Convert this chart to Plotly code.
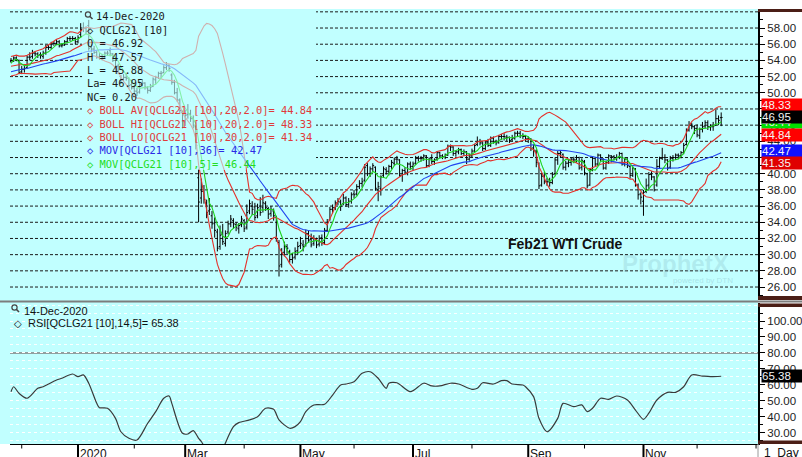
import pandas as pd
import plotly.graph_objects as go
from plotly.subplots import make_subplots

# ---------------- DATA ----------------
HOLIDAYS = ["2019-11-28", "2019-12-25", "2020-01-01", "2020-01-20", "2020-02-17",
            "2020-04-10", "2020-05-25", "2020-07-03", "2020-09-07", "2020-11-26",
            "2020-12-25", "2021-01-01"]

# closes before the visible window (needed for the 20/36-day indicators), Oct 4 - Nov 22 2019
warmup_close = [50.6, 50.6, 50.5, 50.5, 51.3, 52.3, 51.4, 50.7, 51.2, 51.7,
                51.6, 51.2, 51.9, 53.2, 53.4, 53.6, 52.9, 52.7, 52.4, 51.8,
                52.9, 53.1, 53.6, 53.0, 53.5, 53.6, 53.3, 53.2, 53.5, 53.2,
                53.9, 53.5, 52.4, 53.5, 54.4, 53.9]

opens = [
    53.9, 54.0, 54.3, 54.0,
    52.6, 52.9, 53.1, 54.4, 54.5, 54.9, 54.8, 54.7, 54.5, 54.9, 55.6, 55.6, 56.1, 56.1, 56.3, 55.8, 55.9, 56.3, 56.7, 56.7, 56.7,
    56.3, 57.2, 58.0, 58.0, 58.3, 55.6, 55.4, 55.0, 54.4, 54.5, 54.3, 54.9, 55.2, 54.8, 54.0, 53.3, 52.0, 51.6, 51.9, 51.8, 51.0,
    50.6, 50.2, 50.1, 51.0, 51.2, 50.6, 50.3, 50.8, 51.6, 51.9, 52.4, 52.5, 53.1, 53.4, 52.2, 51.3, 50.0, 49.1, 47.6,
    46.4, 47.3, 47.4, 46.8, 45.8, 39.5, 37.0, 37.8, 36.4, 35.4, 34.8, 33.9, 32.8, 31.0, 32.5, 31.4, 32.8, 33.8, 34.2, 33.7, 33.2, 33.7,
    34.2, 33.4, 35.4, 36.0, 35.9, 34.8, 36.0, 35.8, 36.3, 35.7, 35.1, 35.4, 34.6, 31.5, 28.8, 30.3, 31.0, 30.4, 29.4, 29.7, 30.5,
    31.1, 31.2, 31.2, 32.6, 31.9, 31.4, 31.9, 31.3, 32.1, 31.5, 33.0, 34.3, 35.6, 35.8, 36.4, 36.5, 36.3, 37.0, 36.2, 36.6,
    37.5, 37.5, 38.4, 38.8, 39.2, 41.0, 40.0, 40.6, 40.8, 38.0, 38.2, 39.8, 40.5, 40.3, 40.9, 41.3, 41.8, 41.7, 39.8, 40.4, 40.1, 41.2,
    40.9, 41.3, 41.9, 41.9, 41.9, 42.2, 41.0, 41.9, 41.5, 41.8, 42.6, 42.2, 42.1, 42.3, 43.4, 43.3, 42.5, 42.7, 43.0, 42.5, 42.7, 41.8,
    42.2, 42.8, 43.6, 44.0, 43.8, 43.1, 43.8, 43.5, 44.4, 44.0, 43.9, 44.6, 44.6, 44.5, 44.5, 44.2, 44.4, 45.0, 45.0, 44.7, 44.6,
    44.3, 44.3, 43.2, 42.8, 41.2, 38.6, 39.7, 39.0, 39.0, 38.9, 40.0, 41.7, 42.5, 42.4, 40.8, 41.3, 41.4, 41.8, 41.7, 42.0, 40.8,
    41.5, 40.0, 38.6, 40.5, 41.9, 41.2, 42.3, 41.8, 40.7, 41.4, 42.2, 42.1, 42.0, 42.0, 42.5, 41.2, 41.8, 40.9, 39.8, 40.6, 38.6, 37.5,
    36.6, 37.8, 38.6, 39.9, 39.6, 38.6, 40.9, 41.9, 42.0, 41.7, 40.8, 41.9, 42.0, 42.3, 42.2, 42.6, 43.6, 45.4, 46.0, 45.8,
    45.6, 44.7, 45.5, 45.9, 46.3, 45.8, 45.8, 46.0, 46.8, 46.92]

highs = [
    54.3, 54.5, 54.5, 54.1,
    53.3, 53.3, 54.6, 55.0, 55.3, 55.1, 55.0, 55.0, 55.2, 55.9, 55.9, 56.3, 56.4, 56.6, 56.5, 56.1, 56.5, 56.9, 57.0, 57.0, 56.9,
    57.1, 58.6, 58.7, 58.2, 59.0, 56.0, 55.8, 55.2, 54.9, 54.8, 55.1, 55.2, 55.6, 54.9, 54.1, 53.6, 52.2, 52.3, 52.4, 51.9, 51.6,
    50.9, 50.6, 51.4, 51.7, 51.3, 50.8, 51.1, 51.9, 52.1, 52.6, 52.7, 53.4, 53.8, 53.5, 52.4, 51.6, 50.6, 49.3, 47.8,
    47.9, 48.6, 47.9, 47.2, 46.0, 40.6, 39.4, 38.6, 36.8, 37.0, 35.4, 34.6, 33.2, 33.6, 33.8, 33.0, 34.2, 34.9, 34.5, 34.0, 33.9, 34.8,
    34.4, 36.2, 36.8, 36.6, 36.4, 36.3, 37.1, 37.4, 36.6, 35.9, 36.0, 35.7, 34.8, 31.8, 30.8, 31.6, 31.3, 30.6, 30.2, 30.9, 31.6,
    32.2, 31.8, 33.1, 33.0, 32.6, 32.4, 32.1, 32.4, 32.5, 33.3, 34.4, 35.9, 36.2, 36.7, 37.0, 36.8, 37.5, 37.2, 37.0, 37.7,
    38.0, 38.7, 39.2, 39.5, 41.2, 41.3, 40.9, 41.3, 40.9, 39.0, 39.8, 40.9, 40.8, 41.1, 41.7, 42.0, 42.2, 41.8, 40.6, 40.8, 41.4, 41.5,
    41.5, 42.2, 42.2, 42.2, 42.4, 42.3, 42.0, 42.4, 41.9, 42.8, 42.7, 42.4, 42.5, 43.6, 43.6, 43.4, 42.9, 43.2, 43.1, 43.0, 42.8, 42.5,
    43.1, 43.7, 44.6, 44.3, 43.9, 44.0, 44.3, 44.6, 44.6, 44.2, 44.8, 44.9, 45.0, 44.8, 44.6, 44.8, 45.2, 45.3, 45.3, 45.0, 44.8,
    44.6, 44.4, 43.6, 43.0, 41.4, 40.1, 40.2, 39.5, 39.5, 40.2, 42.0, 42.8, 42.9, 42.5, 41.6, 41.8, 42.0, 42.1, 42.3, 42.1, 41.9,
    41.7, 40.1, 40.7, 42.1, 42.0, 42.5, 42.4, 41.9, 41.6, 42.4, 42.3, 42.3, 42.4, 42.7, 42.6, 42.0, 41.9, 41.0, 40.9, 40.7, 38.8, 37.7,
    38.0, 39.4, 40.2, 40.3, 39.7, 41.8, 42.1, 43.2, 42.4, 41.8, 42.2, 42.3, 42.5, 42.5, 42.8, 43.8, 45.6, 46.5, 46.3, 46.0,
    46.1, 45.7, 46.4, 46.6, 46.6, 46.1, 46.4, 47.9, 47.2, 47.57]

lows = [
    53.7, 53.8, 53.9, 52.3,
    52.3, 52.5, 53.0, 54.0, 54.2, 54.5, 54.3, 54.2, 54.2, 54.7, 55.3, 55.4, 55.8, 55.9, 55.6, 55.6, 55.8, 56.2, 56.4, 56.4, 56.0,
    56.1, 56.9, 57.5, 57.2, 55.2, 55.0, 54.8, 54.2, 54.1, 54.0, 54.2, 54.6, 54.5, 53.8, 52.9, 52.3, 51.1, 51.4, 51.5, 50.5, 50.4,
    49.8, 49.6, 49.9, 50.8, 50.4, 49.9, 50.1, 50.7, 51.1, 51.7, 51.8, 52.4, 52.8, 52.6, 51.0, 49.8, 48.9, 47.4, 45.6,
    45.9, 46.8, 46.4, 45.6, 43.0, 34.0, 36.3, 36.3, 34.5, 34.9, 33.2, 32.1, 30.4, 30.6, 31.2, 31.0, 32.5, 33.4, 33.2, 32.9, 32.6, 33.4,
    32.8, 33.1, 35.0, 34.9, 34.2, 34.5, 34.8, 35.2, 35.4, 34.4, 34.7, 34.2, 31.6, 27.3, 28.4, 29.8, 30.1, 29.0, 28.9, 29.4, 30.0,
    30.7, 30.4, 31.0, 31.5, 30.9, 31.1, 30.8, 31.0, 31.1, 31.2, 32.8, 34.2, 35.1, 35.5, 36.1, 35.4, 36.1, 35.9, 35.8, 36.3,
    37.0, 37.3, 38.1, 38.3, 39.0, 39.7, 39.6, 40.2, 37.9, 36.6, 37.3, 39.5, 39.9, 39.8, 40.6, 41.0, 41.2, 39.6, 39.0, 39.9, 39.8, 40.6,
    40.4, 41.1, 41.5, 41.5, 41.6, 40.8, 40.8, 41.2, 41.1, 41.6, 41.9, 41.8, 41.8, 42.2, 42.8, 42.2, 42.1, 42.4, 42.3, 42.2, 41.2, 41.6,
    42.0, 42.6, 43.4, 43.5, 42.8, 42.9, 43.3, 43.3, 43.7, 43.5, 43.7, 44.2, 44.1, 44.0, 43.8, 44.0, 44.2, 44.6, 44.4, 44.3, 44.0,
    43.8, 42.8, 42.1, 40.8, 38.1, 38.4, 38.7, 38.5, 38.4, 38.7, 39.8, 41.1, 42.0, 40.5, 40.4, 40.8, 41.0, 41.3, 41.4, 40.5, 40.4,
    39.8, 38.2, 38.5, 40.3, 40.9, 41.0, 41.5, 40.5, 40.5, 41.2, 41.4, 41.7, 41.6, 41.8, 41.0, 40.9, 40.7, 39.4, 39.6, 38.4, 36.8, 36.2,
    34.8, 37.6, 37.9, 39.2, 37.8, 38.4, 40.6, 41.7, 41.3, 40.4, 40.6, 41.5, 41.7, 41.8, 41.9, 42.4, 43.5, 45.2, 45.5, 44.9,
    44.5, 44.3, 45.1, 45.6, 45.4, 45.3, 45.3, 45.9, 46.0, 45.88]

closes = [
    54.0, 54.3, 54.1, 52.5,
    52.9, 53.0, 54.4, 54.4, 54.9, 54.8, 54.6, 54.6, 54.9, 55.6, 55.6, 56.1, 56.1, 56.3, 55.8, 55.9, 56.3, 56.7, 56.7, 56.7, 56.3,
    56.8, 57.8, 58.0, 57.6, 55.5, 55.4, 55.0, 54.4, 54.5, 54.3, 54.9, 54.9, 54.8, 54.0, 53.3, 52.5, 51.6, 51.9, 51.8, 50.9, 50.6,
    50.2, 50.0, 51.0, 51.2, 50.7, 50.3, 50.7, 51.7, 51.9, 52.4, 52.4, 53.1, 53.4, 53.0, 51.3, 50.0, 49.1, 47.8, 46.5,
    47.2, 47.4, 46.8, 46.0, 43.5, 36.5, 37.8, 36.8, 35.2, 35.6, 33.8, 33.0, 30.8, 32.4, 31.6, 32.6, 33.8, 34.4, 33.8, 33.4, 33.6, 34.4,
    33.2, 35.2, 36.3, 35.6, 34.6, 35.8, 35.2, 36.4, 35.8, 35.0, 35.6, 34.8, 32.0, 28.6, 30.2, 31.0, 30.8, 29.4, 29.6, 30.4, 31.0,
    31.4, 31.0, 32.6, 31.8, 31.2, 32.0, 31.2, 32.0, 31.4, 33.0, 34.0, 35.6, 35.8, 36.4, 36.6, 36.0, 37.0, 36.2, 36.6, 37.4,
    37.4, 38.4, 38.8, 39.0, 40.8, 40.0, 40.6, 41.0, 38.2, 38.4, 39.6, 40.6, 40.3, 40.9, 41.4, 41.8, 41.8, 39.8, 40.4, 40.2, 41.2, 40.9,
    41.2, 41.9, 41.9, 41.9, 42.2, 41.0, 41.8, 41.5, 41.7, 42.6, 42.2, 42.1, 42.3, 43.4, 43.3, 42.5, 42.7, 43.0, 42.5, 42.7, 41.8, 42.2,
    42.8, 43.5, 44.0, 43.8, 43.1, 43.8, 43.5, 44.4, 44.0, 43.8, 44.6, 44.6, 44.6, 44.5, 44.1, 44.4, 45.0, 45.0, 44.7, 44.6, 44.3,
    44.3, 43.1, 42.9, 41.4, 38.5, 39.7, 39.0, 39.0, 38.9, 39.9, 41.7, 42.5, 42.6, 40.8, 41.3, 41.4, 41.8, 41.7, 42.0, 40.7, 41.6,
    40.1, 38.5, 40.5, 41.9, 41.2, 42.3, 41.8, 40.7, 41.4, 42.2, 42.1, 42.0, 42.0, 42.5, 41.2, 41.8, 41.0, 39.8, 40.7, 38.6, 37.4, 37.1,
    37.7, 38.5, 39.9, 39.6, 38.0, 40.9, 41.9, 42.0, 41.7, 40.7, 41.9, 42.0, 42.3, 42.2, 42.6, 43.5, 45.3, 46.0, 45.8, 45.6,
    44.8, 45.5, 45.8, 46.3, 45.8, 45.8, 45.9, 46.8, 46.6, 46.95]

rsi_dates = [
    "2019-11-25", "2019-11-26", "2019-11-29", "2019-12-04", "2019-12-10", "2019-12-12", "2019-12-19",
    "2019-12-23", "2019-12-30", "2020-01-02", "2020-01-06", "2020-01-08", "2020-01-13", "2020-01-14",
    "2020-01-17", "2020-01-23", "2020-01-27", "2020-01-30", "2020-02-04", "2020-02-10", "2020-02-13",
    "2020-02-19", "2020-02-21", "2020-02-24", "2020-02-28", "2020-03-03", "2020-03-05", "2020-03-09",
    "2020-03-10", "2020-03-12", "2020-03-16", "2020-03-18", "2020-03-20", "2020-03-23", "2020-03-26",
    "2020-03-30", "2020-04-03", "2020-04-08", "2020-04-14", "2020-04-17", "2020-04-21", "2020-04-27",
    "2020-04-29", "2020-05-01", "2020-05-05", "2020-05-08", "2020-05-14", "2020-05-19", "2020-05-22",
    "2020-05-27", "2020-06-01", "2020-06-04", "2020-06-09", "2020-06-12", "2020-06-17", "2020-06-18",
    "2020-06-23", "2020-06-30", "2020-07-08", "2020-07-13", "2020-07-16", "2020-07-22", "2020-07-27",
    "2020-08-03", "2020-08-05", "2020-08-07", "2020-08-13", "2020-08-18", "2020-08-20", "2020-08-24",
    "2020-08-28", "2020-08-31", "2020-09-03", "2020-09-08", "2020-09-11", "2020-09-17", "2020-09-21",
    "2020-09-25", "2020-09-30", "2020-10-02", "2020-10-06", "2020-10-09", "2020-10-14", "2020-10-19",
    "2020-10-23", "2020-10-28", "2020-11-02", "2020-11-04", "2020-11-09", "2020-11-13", "2020-11-18",
    "2020-11-23", "2020-11-27", "2020-12-03", "2020-12-08", "2020-12-14"]
rsi_values = [
    55.7, 58.8, 54.7, 51.6, 57.8, 58.8, 63.0,
    64.1, 66.8, 65.1, 66.2, 61.0, 48.4, 45.7,
    45.3, 39.0, 30.6, 26.5, 25.4, 35.9, 43.2,
    51.6, 53.0, 48.4, 29.6, 29.2, 31.3, 26.5,
    24.5, 19.0, 15.0, 14.0, 19.0, 23.5, 33.8,
    36.3, 38.0, 40.0, 45.3, 44.7, 38.0, 32.8,
    33.8, 36.9, 43.2, 47.4, 47.8, 53.6, 59.9,
    60.5, 62.0, 67.2, 68.2, 64.1, 57.8, 61.0,
    61.3, 55.7, 61.0, 59.3, 59.3, 61.0, 60.5,
    57.2, 57.8, 61.3, 60.5, 62.6, 62.6, 60.5,
    59.9, 58.8, 52.6, 39.0, 30.6, 39.0, 48.4,
    46.3, 47.4, 43.2, 45.3, 51.6, 50.9, 53.0,
    50.5, 44.2, 38.4, 42.2, 50.5, 55.3, 55.3,
    58.8, 66.2, 65.5, 65.1, 65.38]

price_ticks = list(range(26, 61, 2))
rsi_ticks = list(range(30, 101, 10))
major_month_ticks = ["2020-01-02", "2020-03-02", "2020-05-01", "2020-07-01", "2020-09-01", "2020-11-02"]
major_month_labels = ["2020", "Mar", "May", "Jul", "Sep", "Nov"]
minor_month_ticks = ["2019-12-02", "2020-02-03", "2020-04-01", "2020-06-01", "2020-08-03",
                     "2020-10-01", "2020-12-01", "2021-01-04"]

legend_lines = [
    ("O = 46.92", "#1a1a1a"), ("H = 47.57", "#1a1a1a"), ("L = 45.88", "#1a1a1a"),
    ("La= 46.95", "#1a1a1a"), ("NC= 0.20", "#1a1a1a"),
    ("\u25c7 BOLL AV[QCLG21 [10],20,2.0]= 44.84", "#e03a3a"),
    ("\u25c7 BOLL HI[QCLG21 [10],20,2.0]= 48.33", "#e03a3a"),
    ("\u25c7 BOLL LO[QCLG21 [10],20,2.0]= 41.34", "#e03a3a"),
    ("\u25c7 MOV[QCLG21 [10],36]= 42.47", "#2a2ae6"),
    ("\u25c7 MOV[QCLG21 [10],5]= 46.44", "#22dd22"),
]
# right-axis value tags: (value, text, colour, pixel shift)
value_tags = [(46.44, "46.44", "#00e000", 0), (42.47, "42.47", "#1010ff", 3),
              (41.35, "41.35", "#e00000", 0), (44.84, "44.84", "#ff0000", 0),
              (48.33, "48.33", "#ff0000", 1.5), (46.95, "46.95", "#000000", 0)]

# ---------------- CALENDAR + INDICATORS ----------------
bday = pd.offsets.CustomBusinessDay(holidays=HOLIDAYS)
dates = pd.date_range("2019-11-25", "2020-12-14", freq=bday)
axis_days = pd.date_range("2019-11-25", "2021-01-04", freq=bday)   # trading-day slots on the axis
warm_dates = pd.date_range("2019-10-04", "2019-11-22", freq=bday)
assert len(dates) == len(closes) == len(opens) == len(highs) == len(lows)
assert len(warm_dates) == len(warmup_close)

day_str = [d.strftime("%Y-%m-%d") for d in dates]
axis_str = [d.strftime("%Y-%m-%d") for d in axis_days]

all_close = pd.Series(warmup_close + closes, index=warm_dates.append(dates))
ma20 = all_close.rolling(20).mean()
sd20 = all_close.rolling(20).std(ddof=0)
bb_hi = (ma20 + 2 * sd20).loc[dates].values
bb_lo = (ma20 - 2 * sd20).loc[dates].values
bb_av = ma20.loc[dates].values
ma36 = all_close.rolling(36).mean().loc[dates].values
ma5 = all_close.rolling(5).mean().loc[dates].values

# ---------------- FIGURE ----------------
W, H = 802, 457
L_M, R_M, T_M, B_M = 10, 44, 9, 13
PW, PH = W - L_M - R_M, H - T_M - B_M


def X(px):
    return (px - L_M) / PW


def Y(py):
    return (H - B_M - py) / PH


BG = "#C1FFFF"
fig = make_subplots(rows=2, cols=1, shared_xaxes=True)

fig.add_trace(go.Ohlc(x=day_str, open=opens, high=highs, low=lows, close=closes,
                      increasing_line_color="black", decreasing_line_color="black",
                      line_width=1, tickwidth=0.5, hoverinfo="skip", showlegend=False),
              row=1, col=1)
RED = "#e4312b"
for s in (bb_hi, bb_av, bb_lo):
    fig.add_trace(go.Scatter(x=day_str, y=s, mode="lines", line=dict(color=RED, width=1.1),
                             hoverinfo="skip", showlegend=False), row=1, col=1)
fig.add_trace(go.Scatter(x=day_str, y=ma36, mode="lines", line=dict(color="#2244ee", width=1.1),
                         hoverinfo="skip", showlegend=False), row=1, col=1)
fig.add_trace(go.Scatter(x=day_str, y=ma5, mode="lines", line=dict(color="#1ed41e", width=1.1),
                         hoverinfo="skip", showlegend=False), row=1, col=1)
fig.add_trace(go.Scatter(x=rsi_dates, y=rsi_values, mode="lines",
                         line=dict(color="#3a3a3a", width=1.2, shape="spline", smoothing=0.8),
                         hoverinfo="skip", showlegend=False), row=2, col=1)

fig.update_layout(width=W, height=H, margin=dict(l=L_M, r=R_M, t=T_M, b=B_M, autoexpand=False),
                  paper_bgcolor="white", plot_bgcolor=BG, showlegend=False, hovermode=False)

fig.update_xaxes(type="category", categoryorder="array", categoryarray=axis_str,
                 range=[-0.373, 278.73], showgrid=False, zeroline=False, automargin=False,
                 rangeslider_visible=False, showticklabels=False, ticks="")
fig.update_xaxes(showline=True, linecolor="black", linewidth=1, row=2, col=1)

axfont = dict(family="Liberation Sans, Arial", size=11.5, color="#222222")
fig.update_layout(
    yaxis=dict(domain=[Y(299), 1.0], side="right", range=[24.52, 60.35], automargin=False,
               tickmode="array", tickvals=price_ticks,
               ticktext=[f"{v:.2f}" if v < 60 else "" for v in price_ticks],
               ticks="outside", ticklen=5, tickcolor="black", tickfont=axfont,
               showline=True, linecolor="black", linewidth=2, showgrid=False, zeroline=False,
               minor=dict(tickmode="linear", tick0=0, dtick=1, ticks="outside", ticklen=3,
                          tickcolor="black", showgrid=False)),
    yaxis2=dict(domain=[0.0, Y(303)], side="right", range=[22.92, 111.28], automargin=False,
                tickmode="array", tickvals=rsi_ticks, ticktext=[f"{v:.2f}" for v in rsi_ticks],
                ticks="outside", ticklen=5, tickcolor="black", tickfont=axfont,
                showline=True, linecolor="black", linewidth=2, zeroline=False,
                showgrid=True, gridcolor="rgba(255,255,255,0.9)", griddash="dot", gridwidth=1,
                minor=dict(tickmode="linear", tick0=0, dtick=5, ticks="outside", ticklen=3,
                           tickcolor="black", showgrid=True, gridcolor="rgba(255,255,255,0.9)",
                           griddash="dot")),
)

shapes = []
# cyan strip left of the plot area
shapes.append(dict(type="rect", xref="paper", yref="paper", x0=X(0), x1=X(L_M), y0=0, y1=1,
                   fillcolor=BG, line=dict(width=0), layer="below"))
# gap between panels + separator line
shapes.append(dict(type="rect", xref="paper", yref="paper", x0=X(0), x1=1, y0=Y(303), y1=Y(299),
                   fillcolor=BG, line=dict(width=0), layer="below"))
shapes.append(dict(type="line", xref="paper", yref="paper", x0=X(0), x1=X(W), y0=Y(301.5), y1=Y(301.5),
                   line=dict(color="#7d7d7d", width=2), layer="above"))
# main price grid (dashed)
for v in price_ticks:
    shapes.append(dict(type="line", xref="paper", yref="y", x0=0, x1=1, y0=v, y1=v,
                       line=dict(color="#1a1a1a", width=1, dash="3px,2px"), layer="below"))
# legend box hides the grid behind the text
shapes.append(dict(type="rect", xref="paper", yref="paper", x0=X(82), x1=X(316), y0=Y(170), y1=Y(9),
                   fillcolor=BG, line=dict(width=0), layer="below"))
# fading of data behind legend
shapes.append(dict(type="rect", xref="paper", yref="paper", x0=X(82), x1=X(246), y0=Y(170), y1=Y(9),
                   fillcolor=BG, opacity=0.62, line=dict(width=0), layer="above"))
# RSI 80 level
shapes.append(dict(type="line", xref="paper", yref="y2", x0=0, x1=1, y0=80, y1=80,
                   line=dict(color="#808080", width=1.5), layer="below"))
# brown bars on right axis area
for (a, b) in [(9, 12), (296, 300), (303.5, 307), (440.5, 444)]:
    shapes.append(dict(type="rect", xref="paper", yref="paper", x0=X(758), x1=X(W), y0=Y(b), y1=Y(a),
                       fillcolor="#4b1e16", line=dict(width=0), layer="above"))
# "1 Day" box separator
shapes.append(dict(type="line", xref="paper", yref="paper", x0=X(758), x1=X(758), y0=Y(457), y1=Y(444),
                   line=dict(color="#9a9a9a", width=1)))
# time-axis ticks below the RSI panel
for d in major_month_ticks:
    shapes.append(dict(type="line", xref="x2", yref="paper", x0=d, x1=d, y0=Y(457), y1=Y(444),
                       line=dict(color="black", width=2)))
for d in minor_month_ticks:
    shapes.append(dict(type="line", xref="x2", yref="paper", x0=d, x1=d, y0=Y(448.5), y1=Y(444),
                       line=dict(color="black", width=1)))
# magnifier icons
for (cx, cy) in [(88, 14.5), (14.5, 307.5)]:
    shapes.append(dict(type="circle", xref="paper", yref="paper", x0=X(cx - 2.6), x1=X(cx + 2.6),
                       y0=Y(cy + 2.6), y1=Y(cy - 2.6), line=dict(color="#444444", width=1.2)))
    shapes.append(dict(type="line", xref="paper", yref="paper", x0=X(cx + 2), x1=X(cx + 4.5),
                       y0=Y(cy + 2), y1=Y(cy + 4.5), line=dict(color="#444444", width=1.6)))
fig.update_layout(shapes=shapes)


def txt(xp, yp, text, color, size=10.4, family="DejaVu Sans Mono", anchor="left", **kw):
    fig.add_annotation(xref="paper", yref="paper", x=X(xp), y=Y(yp), text=text, showarrow=False,
                       xanchor=anchor, yanchor="middle", borderpad=0,
                       font=dict(family=family, size=size, color=color), **kw)


# main legend
txt(95, 16.3, "14-Dec-2020", "#1a1a1a")
txt(86, 29.6, "\u25c7 QCLG21 [10]", "#1a1a1a")
for k, (t, c) in enumerate(legend_lines):
    txt(86, 43.2 + 13.4 * k, t, c)

# RSI header
txt(23, 310.7, "14-Dec-2020", "#111111", size=11, family="Liberation Sans, Arial")
txt(13, 323.8, "\u25c7", "#111111", size=10, family="DejaVu Sans")
txt(27, 323.5, "RSI[QCLG21 [10],14,5]= 65.38", "#111111", size=11, family="Liberation Sans, Arial")

# chart title
txt(507, 244, "<b>Feb21 WTI Crude</b>", "#111111", size=14, family="Liberation Sans, Arial")
# watermark
txt(621, 263, "<b>ProphetX</b>", "rgba(130,185,195,0.28)", size=24, family="Liberation Sans, Arial")
txt(672, 280.5, "powered by DTN", "rgba(130,185,195,0.40)", size=8, family="Liberation Sans, Arial")

# value tags
for val, t, col, sh in value_tags:
    fig.add_annotation(xref="paper", yref="y", x=X(761), y=val, yshift=sh, text=t, showarrow=False,
                       xanchor="left", yanchor="middle", bgcolor=col, borderpad=0, width=40, height=12,
                       align="left", font=dict(family="Liberation Sans, Arial", size=11.5, color="#f4f4f4"))
fig.add_annotation(xref="paper", yref="y2", x=X(761), y=65.38, text="65.38", showarrow=False,
                   xanchor="left", yanchor="middle", bgcolor="#000000", borderpad=0, width=40, height=12,
                   align="left", font=dict(family="Liberation Sans, Arial", size=11.5, color="#f4f4f4"))

# x-axis month labels
for d, lab in zip(major_month_ticks, major_month_labels):
    fig.add_annotation(xref="x2", yref="paper", x=d, y=Y(453.5), text=lab, showarrow=False,
                       xanchor="left", yanchor="middle", xshift=1, borderpad=0,
                       font=dict(family="Liberation Sans, Arial", size=12, color="#111111"))
txt(763, 453, "1  Day", "#111111", size=12, family="Liberation Sans, Arial")

fig.write_html("out.html", config={"displayModeBar": False},
               post_script="document.body.style.margin='0';document.body.style.padding='0';")
